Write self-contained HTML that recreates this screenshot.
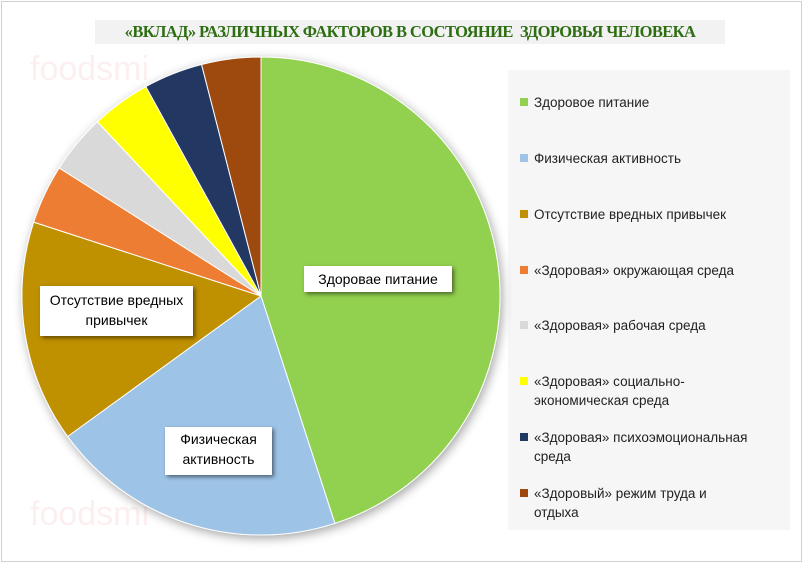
<!DOCTYPE html>
<html><head><meta charset="utf-8"><style>
body{margin:0;background:#fff;}
#c{position:relative;width:803px;height:563px;overflow:hidden;font-family:"Liberation Sans","DejaVu Sans",sans-serif;}
.frame{position:absolute;left:1px;top:1px;width:799px;height:559px;border:1px solid #d0d0d0;}
.title{position:absolute;left:95px;top:20px;width:630px;height:24px;background:#f2f2f2;color:#2e6e12;font-family:"Liberation Serif",serif;font-weight:bold;font-size:16.5px;text-align:center;line-height:24px;letter-spacing:-0.6px}
.leg{position:absolute;left:508px;top:70px;width:282px;height:460px;background:#f6f6f6;}
.li{position:absolute;left:520px;font-size:13.5px;color:#222;line-height:19px;}
.li i{position:absolute;left:0;top:5px;width:8px;height:8px;}
.li span{display:block;margin-left:14px;}
.lbl{position:absolute;background:#fff;font-size:14px;color:#000;text-align:center;box-shadow:2px 2px 4px rgba(0,0,0,.5);line-height:20px;}
.wm{position:absolute;color:rgba(230,120,120,.12);font-size:34px;}
</style></head><body><div id="c">
<div class="frame"></div>
<div class="wm" style="left:30px;top:50px">foodsmi</div>
<div class="wm" style="left:30px;top:495px">foodsmi</div>
<div class="leg"></div>
<div class="title">«ВКЛАД» РАЗЛИЧНЫХ ФАКТОРОВ В СОСТОЯНИЕ&nbsp; ЗДОРОВЬЯ ЧЕЛОВЕКА</div>
<svg width="803" height="563" style="position:absolute;left:0;top:0">
<defs><filter id="s" x="-20%" y="-20%" width="140%" height="140%"><feDropShadow dx="2" dy="3" stdDeviation="5" flood-opacity="0.35"/></filter></defs>
<g id="pie" filter="url(#s)"></g></svg>
<div class="li" style="top:93px"><i style="background:#92d050"></i><span>Здоровое питание</span></div>
<div class="li" style="top:149px"><i style="background:#9dc3e6"></i><span>Физическая активность</span></div>
<div class="li" style="top:205px"><i style="background:#bf9000"></i><span>Отсутствие вредных привычек</span></div>
<div class="li" style="top:261px"><i style="background:#ed7d31"></i><span>«Здоровая» окружающая среда</span></div>
<div class="li" style="top:316px"><i style="background:#d9d9d9"></i><span>«Здоровая» рабочая среда</span></div>
<div class="li" style="top:372px"><i style="background:#ffff00"></i><span>«Здоровая» социально-<br>экономическая среда</span></div>
<div class="li" style="top:428px"><i style="background:#203864"></i><span>«Здоровая» психоэмоциональная<br>среда</span></div>
<div class="li" style="top:484px"><i style="background:#9e480e"></i><span>«Здоровый» режим труда и<br>отдыха</span></div>
<div class="lbl" style="left:304px;top:266px;width:148px;height:26px;line-height:26px">Здоровае питание</div>
<div class="lbl" style="left:165px;top:427px;width:107px;height:48px;padding-top:2px;box-sizing:border-box">Физическая<br>активность</div>
<div class="lbl" style="left:40px;top:286px;width:153px;height:50px;padding-top:4px;box-sizing:border-box">Отсутствие вредных<br>привычек</div>
</div>
<script>
var v=[45,20,15,4,4,4,4,4],c=["#92d050","#9dc3e6","#bf9000","#ed7d31","#d9d9d9","#ffff00","#203864","#9e480e"];
var cx=261,cy=296,r=239,a=0,g=document.getElementById('pie'),h='';
for(var i=0;i<v.length;i++){var b=a+v[i]/100*2*Math.PI;
var x1=cx+r*Math.sin(a),y1=cy-r*Math.cos(a),x2=cx+r*Math.sin(b),y2=cy-r*Math.cos(b);
h+='<path d="M'+cx+' '+cy+' L'+x1+' '+y1+' A'+r+' '+r+' 0 '+((b-a)>Math.PI?1:0)+' 1 '+x2+' '+y2+' Z" fill="'+c[i]+'" stroke="#fff" stroke-width="1"/>';a=b;}
g.innerHTML=h;
</script>
</body></html>
